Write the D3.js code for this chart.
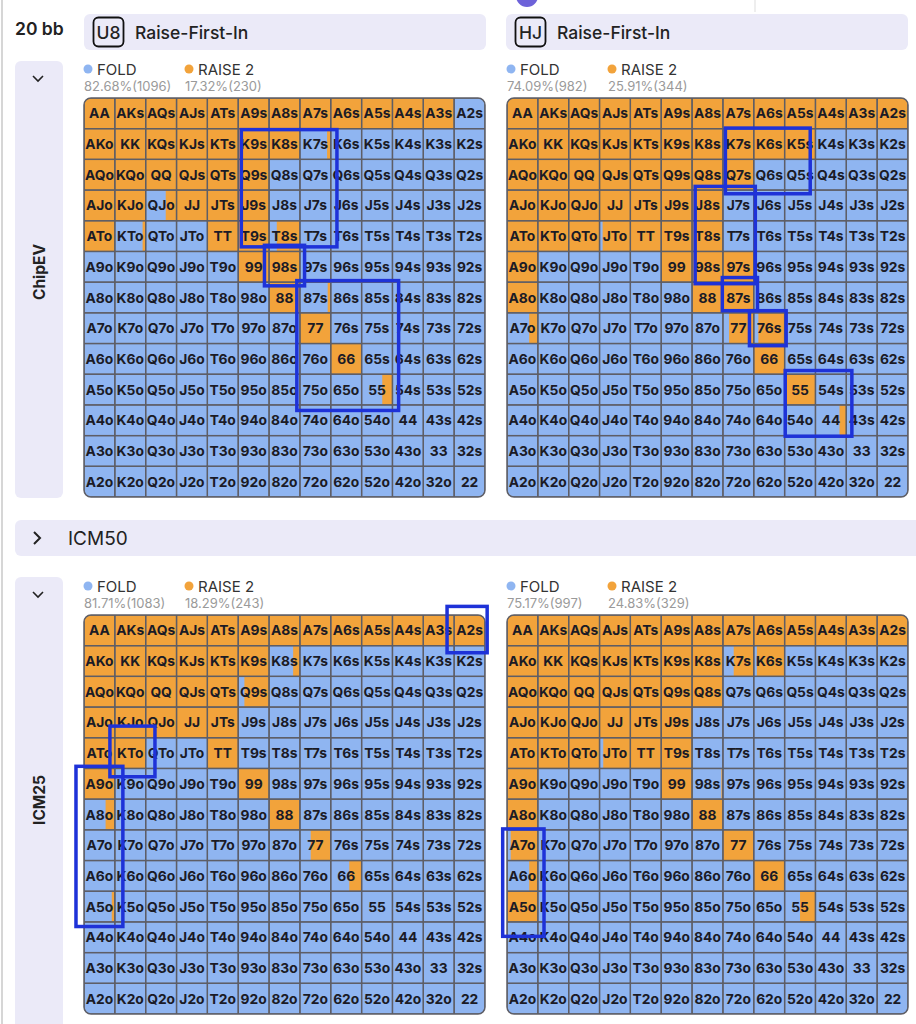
<html>
<head>
<script src="https://d3js.org/d3.v7.min.js"></script>
<style>
  body { margin: 0; background: #ffffff; }
  svg text { font-family: Inter, "Noto Sans", "DejaVu Sans", sans-serif; }
  .cell-label { font-size: 13.8px; font-weight: 700; fill: #1b1b26; }
  .legend-name { font-size: 15px; fill: #333; }
  .legend-pct { font-size: 13px; fill: #9a9a9a; }
  .head-text { font-size: 17.5px; fill: #222; }
</style>
</head>
<body>
<svg id="chart" width="916" height="1024"></svg>
<script>
// ranks along the rows and columns
const ranks = ["A","K","Q","J","T","9","8","7","6","5","4","3","2"];

// raise frequency of each hand (row = first rank, col = second rank)
const u8ChipEV = [
  [1,1,1,1,1,1,1,1,1,1,1,1,0],
  [1,1,1,1,1,1,1,0.12,0,0,0,0,0],
  [1,1,1,1,1,1,0,0,0,0,0,0,0],
  [1,1,0.35,1,1,1,0,0,0,0,0,0,0],
  [1,0.1,0,0,1,1,0.75,0,0,0,0,0,0],
  [0,0,0,0,0,1,1,0,0,0,0,0,0],
  [0,0,0,0,0,0,1,0.1,0,0,0,0,0],
  [0,0,0,0,0,0,0,1,0,0,0,0,0],
  [0,0,0,0,0,0,0,0,1,0,0,0,0],
  [0,0,0,0,0,0,0,0,0,0.33,0,0,0],
  [0,0,0,0,0,0,0,0,0,0,0,0,0],
  [0,0,0,0,0,0,0,0,0,0,0,0,0],
  [0,0,0,0,0,0,0,0,0,0,0,0,0]
];
const hjChipEV = [
  [1,1,1,1,1,1,1,1,1,1,1,1,1],
  [1,1,1,1,1,1,1,1,1,1,0,0,0],
  [1,1,1,1,1,1,1,1,0,0,0,0,0],
  [1,1,1,1,1,1,1,0,0,0,0,0,0],
  [1,1,1,0.9,1,1,1,0,0,0,0,0,0],
  [1,0,0,0,0,1,1,1,0,0,0,0,0],
  [1,0,0,0,0,0,1,1,0,0,0,0,0],
  [0.28,0,0,0,0,0,0,0.8,0.85,0,0,0,0],
  [0,0,0,0,0,0,0,0,1,0,0,0,0],
  [0,0,0,0,0,0,0,0,0,1,0,0,0],
  [0,0,0,0,0,0,0,0,0,0,0.22,0,0],
  [0,0,0,0,0,0,0,0,0,0,0,0,0],
  [0,0,0,0,0,0,0,0,0,0,0,0,0]
];
const u8Icm25 = [
  [1,1,1,1,1,1,1,1,1,1,1,1,1],
  [1,1,1,1,1,1,0.22,0,0,0,0,0,0],
  [1,1,1,1,1,0.8,0,0,0,0,0,0,0],
  [1,1,1,1,1,0,0,0,0,0,0,0,0],
  [1,1,0,0,1,0,0,0,0,0,0,0,0],
  [1,0,0,0,0,1,0,0,0,0,0,0,0],
  [0.3,0,0,0,0,0,1,0,0,0,0,0,0],
  [0,0,0,0,0,0,0,0.65,0,0,0,0,0],
  [0,0,0,0,0,0,0,0,0.4,0,0,0,0],
  [0.1,0,0,0,0,0,0,0,0,0,0,0,0],
  [0,0,0,0,0,0,0,0,0,0,0,0,0],
  [0,0,0,0,0,0,0,0,0,0,0,0,0],
  [0,0,0,0,0,0,0,0,0,0,0,0,0]
];
const hjIcm25 = [
  [1,1,1,1,1,1,1,1,1,1,1,1,1],
  [1,1,1,1,1,1,1,0.65,0.9,0,0,0,0],
  [1,1,1,1,1,1,1,0,0,0,0,0,0],
  [1,1,1,1,1,1,0,0,0,0,0,0,0],
  [1,1,1,0.88,1,1,0,0,0,0,0,0,0],
  [1,0,0,0,0,1,0.05,0,0,0,0,0,0],
  [1,0,0,0,0,0,1,0,0,0,0,0,0],
  [0.88,0,0,0,0,0,0,1,0,0,0,0,0],
  [0.28,0,0,0,0,0,0,0,1,0,0,0,0],
  [1,0,0,0,0,0,0,0,0,0.5,0,0,0],
  [0,0,0,0,0,0,0,0,0,0,0,0,0],
  [0,0,0,0,0,0,0,0,0,0,0,0,0],
  [0,0,0,0,0,0,0,0,0,0,0,0,0]
];

// legend texts
const legendNames = ["FOLD", "RAISE 2"];
const foldPcts = ["82.68%(1096)", "74.09%(982)", "81.71%(1083)", "75.17%(997)"];
const raisePcts = ["17.32%(230)", "25.91%(344)", "18.29%(243)", "24.83%(329)"];
const positions = ["U8", "HJ"];
const sections = ["ChipEV", "ICM25"];

// hand-drawn highlight boxes, in cell units [col0,row0,col1,row1]
const u8ChipEVBoxes = [[5.1,1.03,8.2,4.85],[5.85,4.8,7.15,6.12],[6.9,5.95,10.2,10.18]];
const hjChipEVBoxes = [[7.08,0.98,9.83,3.12],[6.1,2.88,8.05,6.05],[6.98,5.85,8.12,6.93],[7.86,6.93,9.05,8.07],[9.02,8.88,11.18,11.02]];
const u8Icm25Boxes = [[11.77,-0.28,13.07,1.23],[0.84,3.62,2.3,5.27],[-0.26,4.93,1.26,10.15]];
const hjIcm25Boxes = [[-0.14,6.97,1.2,10.47]];

const blue = "#8fb5f1", orange = "#f2a33b", lavender = "#ebeaf8", boxBlue = "#1e32d8";

const svg = d3.select("#chart");

// little top bits of the app bar
svg.append("circle").attr("cx", 527).attr("cy", -4).attr("r", 11).attr("fill", "#6d62d9");
svg.append("line").attr("x1", 755).attr("x2", 755).attr("y1", 0).attr("y2", 12).attr("stroke", "#ddd");
svg.append("line").attr("x1", 2).attr("x2", 2).attr("y1", 0).attr("y2", 1024).attr("stroke", "#d6d6d6").attr("stroke-width", 2);

svg.append("text").attr("x", 15).attr("y", 35).text("20 bb")
   .style("font-size", "17.5px").style("font-weight", 600).attr("fill", "#222");

// position headers
[84, 506].forEach((hx, i) => {
  svg.append("rect").attr("x", hx).attr("y", 14).attr("width", 402).attr("height", 36)
     .attr("rx", 6).attr("fill", lavender);
  svg.append("rect").attr("x", hx + 9.5).attr("y", 17.5).attr("width", 30).attr("height", 29)
     .attr("rx", 5).attr("fill", "none").attr("stroke", "#111").attr("stroke-width", 1.8);
  svg.append("text").attr("x", hx + 24.5).attr("y", 38.5).attr("text-anchor", "middle")
     .attr("class", "head-text").style("font-weight", 500).text(positions[i]);
  svg.append("text").attr("x", hx + 51).attr("y", 38.5).attr("class", "head-text")
     .style("font-weight", 500).text("Raise-First-In");
});

// ICM50 collapsed bar
svg.append("rect").attr("x", 15).attr("y", 520).attr("width", 920).attr("height", 36)
   .attr("rx", 6).attr("fill", lavender);
svg.append("path").attr("d", "M34,532 L40,538 L34,544").attr("fill", "none")
   .attr("stroke", "#222").attr("stroke-width", 2);
svg.append("text").attr("x", 68).attr("y", 545).text("ICM50")
   .style("font-size", "19px").attr("fill", "#222");

// side panels
const sideTops = [61, 577], sideBottoms = [498, 1030], sideMid = [272, 800];
sections.forEach((s, i) => {
  svg.append("rect").attr("x", 15).attr("y", sideTops[i]).attr("width", 48)
     .attr("height", sideBottoms[i] - sideTops[i]).attr("rx", 6).attr("fill", lavender);
  const cy = sideTops[i] + 17;
  svg.append("path").attr("d", `M33,${cy - 2} L38,${cy + 3} L43,${cy - 2}`)
     .attr("fill", "none").attr("stroke", "#222").attr("stroke-width", 1.6);
  svg.append("text").attr("transform", `translate(45,${sideMid[i]}) rotate(-90)`)
     .attr("text-anchor", "middle").style("font-size", "15.5px").style("font-weight", 700)
     .attr("fill", "#222").text(s);
});

function drawGrid(data, boxes, gx, gy, k) {
  const x = d3.scaleLinear().domain([0, 13]).range([gx, gx + 401]);
  const y = d3.scaleLinear().domain([0, 13]).range([gy, gy + 399]);

  // legend
  const lg = svg.append("g");
  [blue, orange].forEach((c, j) => {
    const lx = gx + (j == 0 ? 4 : 105);
    lg.append("circle").attr("cx", lx).attr("cy", gy - 29).attr("r", 4.5).attr("fill", c);
    lg.append("text").attr("x", lx + 9).attr("y", gy - 23).attr("class", "legend-name").text(legendNames[j]);
  });
  lg.append("text").attr("x", gx).attr("y", gy - 7).attr("class", "legend-pct").text(foldPcts[k]);
  lg.append("text").attr("x", gx + 101).attr("y", gy - 7).attr("class", "legend-pct").text(raisePcts[k]);

  const clipId = "clip" + k;
  svg.append("clipPath").attr("id", clipId).append("rect")
     .attr("x", x(0)).attr("y", y(0)).attr("width", x(13) - x(0)).attr("height", y(13) - y(0)).attr("rx", 7);

  const cells = [];
  data.forEach((row, r) => row.forEach((f, c) => {
    let label;
    if (r == c) label = ranks[r] + ranks[c];
    else if (c > r) label = ranks[r] + ranks[c] + "s";
    else label = ranks[c] + ranks[r] + "o";
    cells.push({r, c, f, label});
  }));

  const g = svg.append("g").attr("clip-path", `url(#${clipId})`);
  g.selectAll("rect.fold").data(cells).join("rect").attr("class", "fold")
    .attr("x", d => x(d.c)).attr("y", d => y(d.r))
    .attr("width", x(1) - x(0)).attr("height", y(1) - y(0)).attr("fill", blue);
  g.selectAll("rect.raise").data(cells.filter(d => d.f > 0)).join("rect").attr("class", "raise")
    .attr("x", d => x(d.c + 1 - d.f)).attr("y", d => y(d.r))
    .attr("width", d => x(d.f) - x(0)).attr("height", y(1) - y(0)).attr("fill", orange);
  g.selectAll("rect.edge").data(cells).join("rect").attr("class", "edge")
    .attr("x", d => x(d.c)).attr("y", d => y(d.r))
    .attr("width", x(1) - x(0)).attr("height", y(1) - y(0))
    .attr("fill", "none").attr("stroke", "#5e5e66").attr("stroke-width", 1.3);
  g.selectAll("text").data(cells).join("text").attr("class", "cell-label")
    .attr("x", d => (x(d.c) + x(d.c + 1)) / 2).attr("y", d => (y(d.r) + y(d.r + 1)) / 2 + 5)
    .attr("text-anchor", "middle").text(d => d.label);
  svg.append("rect").attr("x", x(0)).attr("y", y(0)).attr("width", x(13) - x(0)).attr("height", y(13) - y(0))
     .attr("rx", 7).attr("fill", "none").attr("stroke", "#5e5e66").attr("stroke-width", 1.5);

  // highlight boxes
  svg.append("g").selectAll("rect").data(boxes).join("rect")
    .attr("x", b => x(b[0])).attr("y", b => y(b[1]))
    .attr("width", b => x(b[2]) - x(b[0])).attr("height", b => y(b[3]) - y(b[1]))
    .attr("fill", "none").attr("stroke", boxBlue).attr("stroke-width", 3.5);
}

drawGrid(u8ChipEV, u8ChipEVBoxes, 84, 98, 0);
drawGrid(hjChipEV, hjChipEVBoxes, 507, 98, 1);
drawGrid(u8Icm25, u8Icm25Boxes, 84, 615, 2);
drawGrid(hjIcm25, hjIcm25Boxes, 507, 615, 3);
</script>
</body>
</html>
